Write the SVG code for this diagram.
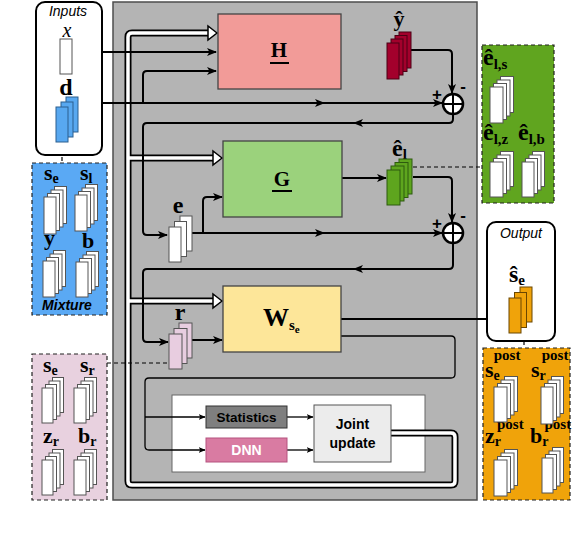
<svg xmlns="http://www.w3.org/2000/svg" width="574" height="534" viewBox="0 0 574 534">
<defs>
<marker id="arr" viewBox="0 0 10 8" refX="9" refY="4" markerWidth="10" markerHeight="8" markerUnits="userSpaceOnUse" orient="auto"><path d="M0,0 L10,4 L0,8 L2.5,4 z" fill="#000"/></marker>
<marker id="arrs" viewBox="0 0 10 8" refX="9" refY="4" markerWidth="7" markerHeight="6" markerUnits="userSpaceOnUse" orient="auto"><path d="M0,0 L10,4 L0,8 L2.5,4 z" fill="#000"/></marker>
</defs>
<style>
.ln{fill:none;stroke:#000;stroke-width:2}
.thin{fill:none;stroke:#000;stroke-width:1.3}
.dash{fill:none;stroke:#000;stroke-width:1.2;stroke-dasharray:4,3}
.pipeo{fill:none;stroke:#000;stroke-width:7;stroke-linejoin:round}
.pipei{fill:none;stroke:#fff;stroke-width:3.5;stroke-linejoin:round}
.ha{fill:#fff;stroke:#000;stroke-width:1.5}
.m{font-family:"Liberation Serif",serif;font-weight:bold;fill:#000}
.s{font-family:"Liberation Sans",Arial,sans-serif}
.wst rect{fill:#fff;stroke:#555;stroke-width:1}
.box{stroke:#444;stroke-width:1.3}
.dbox{stroke:#222;stroke-width:1.2;stroke-dasharray:4,3}
</style>

<!-- main gray panel -->
<rect x="113" y="2" width="364" height="498" fill="#b4b4b4" stroke="#4d4d4d" stroke-width="1.5"/>
<rect x="172" y="395" width="253" height="77" fill="#fff" stroke="#666" stroke-width="1"/>

<!-- white hollow pipe -->
<g id="pipe">
<path class="pipeo" d="M391,433 H451 Q455,433 455,437 V481 Q455,485 451,485 H132 Q128,485 128,481 V37 Q128,33 132,33 H209 M128,158 H214 M128,301 H214"/>
<path class="pipei" d="M391,433 H451 Q455,433 455,437 V481 Q455,485 451,485 H132 Q128,485 128,481 V37 Q128,33 132,33 H210 M128,158 H215 M128,301 H215"/>
<polygon class="ha" points="217,33 208,26 208,40"/>
<polygon class="ha" points="222,158 213,151 213,165"/>
<polygon class="ha" points="222,301 213,294 213,308"/>
</g>

<!-- connectors -->
<g id="connectors">
<path class="ln" d="M72,52 H216" marker-end="url(#arr)"/>
<path class="ln" d="M78,103 H143 V75 Q143,71 147,71 H216" marker-end="url(#arr)"/>
<path class="ln" d="M143,103 H324" marker-end="url(#arr)"/>
<path class="ln" d="M320,103 H442" marker-end="url(#arr)"/>
<path class="ln" d="M411,50 H448 Q452,50 452,54 V93" marker-end="url(#arr)"/>
<path class="ln" d="M453,114 V119 Q453,123 449,123 H354" marker-end="url(#arr)"/>
<path class="ln" d="M358,123 H147 Q143,123 143,127 V231 Q143,235 147,235 H167" marker-end="url(#arr)"/>
<path class="ln" d="M192,233 H324" marker-end="url(#arr)"/>
<path class="ln" d="M320,233 H442" marker-end="url(#arr)"/>
<path class="ln" d="M203,233 V201 Q203,197 207,197 H222" marker-end="url(#arr)"/>
<path class="ln" d="M342,178 H386" marker-end="url(#arr)"/>
<path class="ln" d="M413,177 H448 Q452,177 452,181 V222" marker-end="url(#arr)"/>
<path class="ln" d="M453,243 V265 Q453,269 449,269 H354" marker-end="url(#arr)"/>
<path class="ln" d="M358,269 H147 Q143,269 143,273 V338 Q143,342 147,342 H168" marker-end="url(#arr)"/>
<path class="ln" d="M192,340 H222" marker-end="url(#arr)"/>
<path class="ln" d="M341,319 H508" marker-end="url(#arr)"/>
<path class="thin" d="M341,336 H451 Q455,336 455,340 V374 Q455,378 451,378 H149 Q145,378 145,382 V446 Q145,450 149,450 H205" marker-end="url(#arrs)"/>
<path class="thin" d="M145,417 H205" marker-end="url(#arrs)"/>
<path class="thin" d="M287,417 H313" marker-end="url(#arrs)"/>
<path class="thin" d="M287,450 H313" marker-end="url(#arrs)"/>
<path class="dash" d="M62,143 V163"/>
<path class="dash" d="M413,167 H482"/>
<path class="dash" d="M107,363 H169"/>
<path class="dash" d="M524,334 V348"/>
</g>

<!-- Inputs -->
<g id="inputs">
<rect x="36" y="2" width="66" height="153" rx="9" fill="#fff" stroke="#000" stroke-width="2"/>
<text x="68" y="16" class="s" font-size="14" font-style="italic" text-anchor="middle">Inputs</text>
<text x="67" y="37" font-family="Liberation Serif,serif" font-style="italic" font-size="20" text-anchor="middle">x</text>
<rect x="60" y="39" width="12" height="35" fill="#fff" stroke="#555"/>
<text x="66" y="95" class="m" font-size="24" text-anchor="middle">d</text>
<g fill="#58a8f0" stroke="#2b5f8f" stroke-width="1">
<rect x="66" y="97" width="12" height="35"/><rect x="61" y="102" width="12" height="35"/><rect x="56" y="107" width="12" height="35"/>
</g>
</g>

<!-- Mixture -->
<g id="mixture">
<rect x="32" y="163" width="75" height="152" fill="#5aa9f4" class="dbox"/>
<text class="m" font-size="22" x="44" y="180">s<tspan font-size="14" dy="3">e</tspan></text>
<text class="m" font-size="22" x="80" y="180">s<tspan font-size="14" dy="3">l</tspan></text>
<text class="m" font-size="22" x="44" y="245">y</text>
<text class="m" font-size="22" x="82" y="248">b</text>
<g class="wst">
<rect x="54.5" y="186.5" width="12" height="37"/><rect x="51" y="190" width="12" height="37"/><rect x="47.5" y="193.5" width="12" height="37"/><rect x="44" y="197" width="12" height="37"/>
<rect x="85.5" y="184.5" width="12" height="36"/><rect x="82" y="188" width="12" height="36"/><rect x="78.5" y="191.5" width="12" height="36"/><rect x="75" y="195" width="12" height="36"/>
<rect x="53.5" y="250.5" width="12" height="36"/><rect x="50" y="254" width="12" height="36"/><rect x="46.5" y="257.5" width="12" height="36"/><rect x="43" y="261" width="12" height="36"/>
<rect x="86.5" y="251.5" width="12" height="35"/><rect x="83" y="255" width="12" height="35"/><rect x="79.5" y="258.5" width="12" height="35"/><rect x="76" y="262" width="12" height="35"/>
</g>
<text x="67" y="310" class="s" font-size="14" font-weight="bold" font-style="italic" text-anchor="middle">Mixture</text>
</g>

<!-- pink state box -->
<g id="state">
<rect x="32" y="354" width="75" height="146" fill="#e8d1df" class="dbox"/>
<text class="m" font-size="22" x="43" y="372">s<tspan font-size="14" dy="3">e</tspan></text>
<text class="m" font-size="22" x="80" y="372">s<tspan font-size="14" dy="3">r</tspan></text>
<text class="m" font-size="22" x="43" y="443">z<tspan font-size="14" dy="3">r</tspan></text>
<text class="m" font-size="22" x="78" y="443">b<tspan font-size="14" dy="3">r</tspan></text>
<g class="wst">
<rect x="52.5" y="377.5" width="11" height="35"/><rect x="49" y="381" width="11" height="35"/><rect x="45.5" y="384.5" width="11" height="35"/><rect x="42" y="388" width="11" height="35"/>
<rect x="84.5" y="377.5" width="12" height="35"/><rect x="81" y="381" width="12" height="35"/><rect x="77.5" y="384.5" width="12" height="35"/><rect x="74" y="388" width="12" height="35"/>
<rect x="52.5" y="449.5" width="11" height="35"/><rect x="49" y="453" width="11" height="35"/><rect x="45.5" y="456.5" width="11" height="35"/><rect x="42" y="460" width="11" height="35"/>
<rect x="84.5" y="449.5" width="12" height="35"/><rect x="81" y="453" width="12" height="35"/><rect x="77.5" y="456.5" width="12" height="35"/><rect x="74" y="460" width="12" height="35"/>
</g>
</g>

<!-- H -->
<g id="H">
<rect x="218" y="14" width="123" height="75" fill="#f29b98" class="box"/>
<text x="279" y="57" class="m" font-size="21" text-anchor="middle">H</text>
<line x1="270" y1="63" x2="289" y2="63" stroke="#000" stroke-width="2"/>
</g>

<!-- y hat -->
<g id="yhat">
<text x="399" y="26" class="m" font-size="22" text-anchor="middle">ŷ</text>
<g fill="#a3002c" stroke="#4a0014" stroke-width="1">
<rect x="399" y="32" width="12" height="36"/><rect x="395" y="35.5" width="12" height="36"/><rect x="391" y="39" width="12" height="36"/><rect x="387" y="43" width="12" height="36"/>
</g>
</g>

<!-- sum 1 -->
<g id="sum1">
<circle cx="453" cy="104" r="10" fill="#fff" stroke="#000" stroke-width="2.5"/>
<path d="M443,104 H463 M453,94 V114" stroke="#000" stroke-width="2"/>
<text x="437" y="100" class="s" font-size="17" font-weight="bold" text-anchor="middle">+</text>
<text x="463" y="92" class="s" font-size="17" font-weight="bold" text-anchor="middle">-</text>
</g>

<!-- e -->
<g id="e">
<text x="178" y="213" class="m" font-size="24" text-anchor="middle">e</text>
<g class="wst">
<rect x="180" y="216" width="12" height="35"/><rect x="174.5" y="221.5" width="12" height="35"/><rect x="169" y="227" width="12" height="35"/>
</g>
</g>

<!-- G -->
<g id="G">
<rect x="223" y="141" width="119" height="76" fill="#9bd27c" class="box"/>
<text x="282" y="186" class="m" font-size="21" text-anchor="middle">G</text>
<line x1="272" y1="191" x2="292" y2="191" stroke="#000" stroke-width="2"/>
</g>

<!-- e_l hat -->
<g id="elhat">
<text class="m" font-size="24" x="392" y="156">ê<tspan font-size="15" dy="3">l</tspan></text>
<g fill="#5ea51e" stroke="#2d5a0e" stroke-width="1">
<rect x="399" y="159" width="13" height="35"/><rect x="395" y="162.5" width="13" height="35"/><rect x="391" y="166" width="13" height="35"/><rect x="387" y="170" width="13" height="35"/>
</g>
</g>

<!-- sum 2 -->
<g id="sum2">
<circle cx="453" cy="233" r="10" fill="#fff" stroke="#000" stroke-width="2.5"/>
<path d="M443,233 H463 M453,223 V243" stroke="#000" stroke-width="2"/>
<text x="437" y="229" class="s" font-size="17" font-weight="bold" text-anchor="middle">+</text>
<text x="463" y="221" class="s" font-size="17" font-weight="bold" text-anchor="middle">-</text>
</g>

<!-- green error box -->
<g id="errors">
<rect x="482" y="45" width="72" height="158" fill="#60a51f" class="dbox"/>
<text class="m" font-size="24" x="483" y="65">ê<tspan font-size="15" dy="4">l,s</tspan></text>
<text class="m" font-size="24" x="483" y="140">ê<tspan font-size="15" dy="4">l,z</tspan></text>
<text class="m" font-size="24" x="518" y="140">ê<tspan font-size="15" dy="4">l,b</tspan></text>
<g class="wst">
<rect x="500.5" y="76.5" width="13" height="36"/><rect x="497" y="80" width="13" height="36"/><rect x="493.5" y="83.5" width="13" height="36"/><rect x="490" y="87" width="13" height="36"/>
<rect x="500.5" y="151.5" width="13" height="35"/><rect x="497" y="155" width="13" height="35"/><rect x="493.5" y="158.5" width="13" height="35"/><rect x="490" y="162" width="13" height="35"/>
<rect x="532.5" y="151.5" width="12" height="35"/><rect x="529" y="155" width="12" height="35"/><rect x="525.5" y="158.5" width="12" height="35"/><rect x="522" y="162" width="12" height="35"/>
</g>
</g>

<!-- r -->
<g id="r">
<text x="180" y="320" class="m" font-size="24" text-anchor="middle">r</text>
<g fill="#e8cde0" stroke="#555" stroke-width="1">
<rect x="179" y="323" width="13" height="35"/><rect x="174" y="328.5" width="13" height="35"/><rect x="169" y="334" width="13" height="35"/>
</g>
</g>

<!-- W -->
<g id="W">
<rect x="223" y="286" width="118" height="66" fill="#fde699" class="box"/>
<text class="m" font-size="26" x="263" y="326">W<tspan font-size="15" dy="4">s</tspan><tspan font-size="11" dy="3">e</tspan></text>
</g>

<!-- Output -->
<g id="output">
<rect x="487" y="222" width="68" height="119" rx="9" fill="#fff" stroke="#000" stroke-width="2"/>
<text x="521" y="238" class="s" font-size="14" font-style="italic" text-anchor="middle">Output</text>
<text class="m" font-size="24" x="509" y="282">ŝ<tspan font-size="15" dy="3">e</tspan></text>
<g fill="#f0a30a" stroke="#6b4700" stroke-width="1">
<rect x="520" y="287" width="12" height="35"/><rect x="514.5" y="292.5" width="12" height="35"/><rect x="509" y="298" width="12" height="35"/>
</g>
</g>

<!-- posterior box -->
<g id="posterior">
<rect x="483" y="348" width="87" height="152" fill="#f0a30a" class="dbox"/>
<text class="m" font-size="22" x="485" y="377">s<tspan font-size="14" dy="3">e</tspan><tspan font-size="15" dx="-6" dy="-20">post</tspan></text>
<text class="m" font-size="22" x="531" y="377">s<tspan font-size="14" dy="3">r</tspan><tspan font-size="15" dx="-4" dy="-20">post</tspan></text>
<text class="m" font-size="22" x="485" y="443">z<tspan font-size="14" dy="3">r</tspan><tspan font-size="15" dx="-4" dy="-17">post</tspan></text>
<text class="m" font-size="22" x="530" y="443">b<tspan font-size="14" dy="3">r</tspan><tspan font-size="15" dx="-4" dy="-17">post</tspan></text>
<g class="wst">
<rect x="504.5" y="376.5" width="13" height="35"/><rect x="501" y="380" width="13" height="35"/><rect x="497.5" y="383.5" width="13" height="35"/><rect x="494" y="387" width="13" height="35"/>
<rect x="551.5" y="376.5" width="12" height="37"/><rect x="548" y="380" width="12" height="37"/><rect x="544.5" y="383.5" width="12" height="37"/><rect x="541" y="387" width="12" height="37"/>
<rect x="504.5" y="449.5" width="13" height="36"/><rect x="501" y="453" width="13" height="36"/><rect x="497.5" y="456.5" width="13" height="36"/><rect x="494" y="460" width="13" height="36"/>
<rect x="552.5" y="447.5" width="11" height="35"/><rect x="549" y="451" width="11" height="35"/><rect x="545.5" y="454.5" width="11" height="35"/><rect x="542" y="458" width="11" height="35"/>
</g>
</g>

<!-- bottom update block -->
<g id="statistics">
<rect x="206" y="406" width="81" height="22" fill="#7f7f7f" stroke="#333" stroke-width="1"/>
<text x="246.5" y="422" class="s" font-size="13.5" font-weight="bold" text-anchor="middle">Statistics</text>
</g>
<g id="dnn">
<rect x="206" y="438" width="81" height="24" fill="#d97ba2" stroke="#b5527f" stroke-width="1"/>
<text x="246.5" y="455" class="s" font-size="14" font-weight="bold" fill="#fff" text-anchor="middle">DNN</text>
</g>
<g id="joint">
<rect x="314" y="405" width="77" height="57" fill="#ececec" stroke="#555" stroke-width="1"/>
<text x="352.5" y="429" class="s" font-size="14" font-weight="bold" text-anchor="middle">Joint</text>
<text x="352.5" y="448" class="s" font-size="14" font-weight="bold" text-anchor="middle">update</text>
</g>
</svg>
